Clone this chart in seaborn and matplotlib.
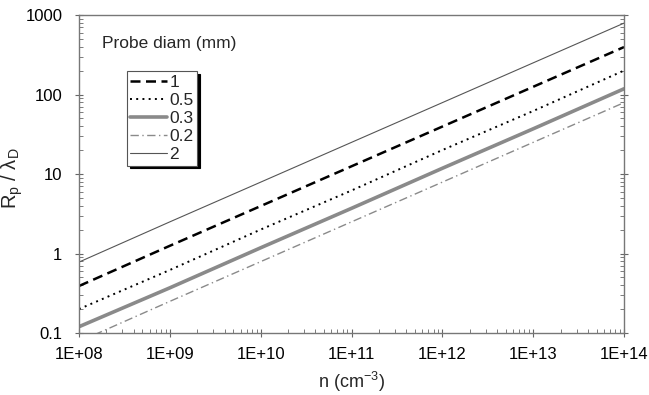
import numpy as np
import pandas as pd
import matplotlib
matplotlib.use("Agg")
import matplotlib.pyplot as plt
import seaborn as sns

# ---- data ----
density = [1e8, 1e9, 1e10, 1e11, 1e12, 1e13, 1e14]
ratio_d1 = [0.39, 1.25, 3.95, 12.5, 39.5, 125, 395]
ratio_d05 = [0.20, 0.62, 2.0, 6.2, 20, 62, 200]
ratio_d03 = [0.12, 0.37, 1.18, 3.7, 11.8, 37, 118]
ratio_d02 = [0.078, 0.25, 0.79, 2.5, 7.9, 25, 79]
ratio_d2 = [0.78, 2.5, 7.9, 25, 79, 250, 790]
series_labels = ["1", "0.5", "0.3", "0.2", "2"]
x_tick_labels = ["1E+08", "1E+09", "1E+10", "1E+11", "1E+12", "1E+13", "1E+14"]
y_tick_labels = ["0.1", "1", "10", "100", "1000"]
y_tick_values = [0.1, 1, 10, 100, 1000]

sns.set_theme(style="white")
plt.rcParams["font.family"] = ["Liberation Sans", "DejaVu Sans"]
plt.rcParams["mathtext.fontset"] = "custom"
plt.rcParams["mathtext.rm"] = "Liberation Sans"
plt.rcParams["mathtext.it"] = "Liberation Sans:italic"

frames = []
for lab, vals in zip(series_labels, [ratio_d1, ratio_d05, ratio_d03, ratio_d02, ratio_d2]):
    frames.append(pd.DataFrame({"n": density, "r": vals, "diam": lab}))
df = pd.concat(frames, ignore_index=True)

styles = {
    "1": dict(color="black", lw=1.8, dashes=(4, 2.2)),
    "0.5": dict(color="black", lw=1.4, dashes=(1, 2.2)),
    "0.3": dict(color="#8a8a8a", lw=2.6, dashes=()),
    "0.2": dict(color="#8a8a8a", lw=1.0, dashes=(6, 2.5, 1, 2.5)),
    "2": dict(color="#555555", lw=0.8, dashes=()),
}

fig = plt.figure(figsize=(6.49, 3.95), dpi=100)
ax = fig.add_axes([79 / 649, 1 - 333 / 395, (624 - 79) / 649, (333 - 15) / 395])

for lab in series_labels:
    st = styles[lab]
    sub = df[df["diam"] == lab]
    sns.lineplot(data=sub, x="n", y="r", ax=ax, color=st["color"], lw=st["lw"],
                 label=lab, legend=False)
    line = ax.get_lines()[-1]
    if st["dashes"]:
        line.set_dashes(st["dashes"])

ax.set_xscale("log")
ax.set_yscale("log")
ax.set_xlim(1e8, 1e14)
ax.set_ylim(0.1, 1000)
ax.set_xticks(density)
ax.set_xticklabels(x_tick_labels)
ax.set_yticks(y_tick_values)
ax.set_yticklabels(y_tick_labels)
ax.xaxis.set_minor_locator(matplotlib.ticker.LogLocator(base=10, subs=np.arange(2, 10), numticks=20))
ax.yaxis.set_minor_locator(matplotlib.ticker.LogLocator(base=10, subs=np.arange(2, 10), numticks=20))
ax.xaxis.set_minor_formatter(matplotlib.ticker.NullFormatter())
ax.yaxis.set_minor_formatter(matplotlib.ticker.NullFormatter())

ax.tick_params(axis="both", which="major", direction="inout", length=6, width=0.8,
               color="#666666", labelsize=12, labelcolor="black")
ax.tick_params(axis="both", which="minor", direction="in", length=3, width=0.6, color="#666666")
ax.tick_params(axis="y", which="both", right=True, left=True)
ax.tick_params(axis="x", which="both", bottom=True)
ax.tick_params(axis="x", which="major", pad=7)
ax.tick_params(axis="y", which="major", pad=9)

for sp in ax.spines.values():
    sp.set_color("#777777")
    sp.set_linewidth(1.0)

ax.set_xlabel(r"n (cm$^{-3}$)", fontsize=13)
ax.xaxis.set_label_coords(0.5, -0.115)
ax.set_ylabel(r"R$_{\mathregular{p}}$ / λ$_{\mathregular{D}}$", fontsize=14.5)
ax.yaxis.set_label_coords(-0.099, 0.487)

handles, labels = ax.get_legend_handles_labels()
leg = ax.legend(handles, labels, loc="upper left", bbox_to_anchor=(48 / 545, 1 - 56 / 318),
                frameon=True, fancybox=False, shadow={"color": "black", "alpha": 1.0},
                edgecolor="#555555", fontsize=12.5, handlelength=2.1, handletextpad=0.15,
                labelspacing=0.17, borderpad=0.2, borderaxespad=0)
leg.get_frame().set_linewidth(0.8)
ax.text(23 / 545, 1 - 28 / 318, "Probe diam (mm)", transform=ax.transAxes,
        fontsize=12.5, va="center", ha="left")

fig.savefig("out.png", dpi=100)
